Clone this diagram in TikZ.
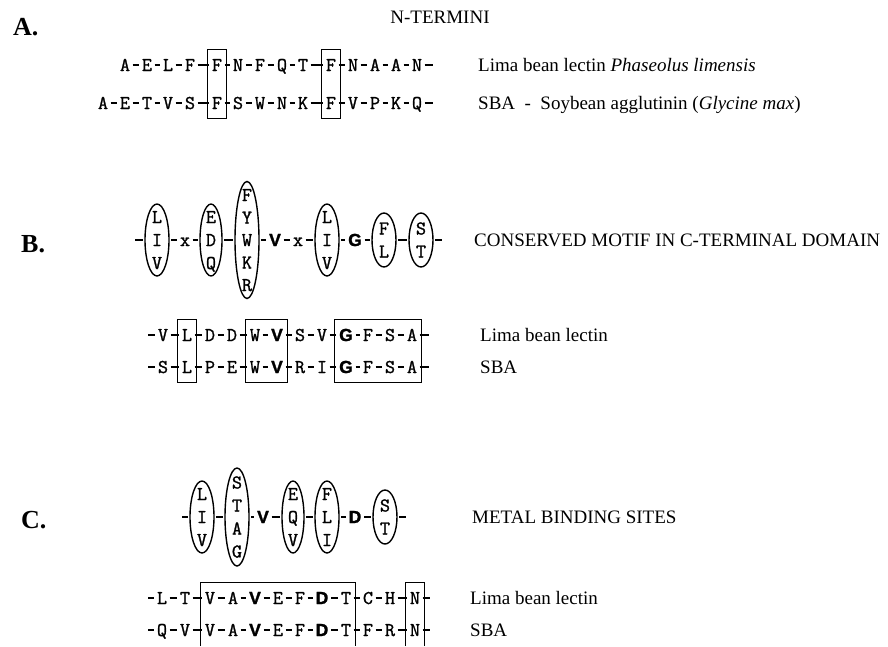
\documentclass[tikz,border=0pt]{standalone}
\usepackage{fontspec}
\setmainfont{Liberation Serif}
\newfontfamily\bresfont[FakeBold=1.5]{Liberation Sans Bold}
\newfontfamily\resfont[FakeBold=1.3]{Latin Modern Mono}
\usetikzlibrary{shapes.geometric,fit}
\newcommand{\B}[1]{{\bresfont\fontsize{17.5}{19}\selectfont #1}}
\begin{document}
\begin{tikzpicture}[x=1pt,y=-1pt,
  res/.style={font=\resfont\fontsize{19.5}{21}\selectfont, inner xsep=1pt, inner ysep=1pt, text height=12pt, text depth=0pt},
  dashln/.style={line width=1.1pt, shorten <=1.5pt, shorten >=1.5pt},
  ell/.style={draw, ellipse, line width=1.4pt, inner sep=0pt, minimum width=24pt},
  lab/.style={font=\fontsize{19}{22}\selectfont, anchor=base west, inner sep=0pt},
  sec/.style={font=\bfseries\fontsize{26}{30}\selectfont, anchor=base west, inner sep=0pt},
  seqbox/.style={draw, line width=1pt, inner xsep=3pt, inner ysep=8.5pt},
  boxln/.style={draw, line width=1pt},
]
\useasboundingbox[fill=white] (0,0) rectangle (888,646);
\coordinate (bot) at (0,646);

% ---------------- A ----------------
\node[sec] (lA) at (13,35) {A.};
\node[lab, anchor=base] (tA) at (440,23) {N-TERMINI};
\foreach \x/\l [count=\i] in {125/A,147/E,168/L,190/F,217/F,238/N,260/F,282/Q,303/T,331/F,353/N,375/A,396/A,417/N}
  \node[res] (a1-\i) at (\x,65) {\l};
\foreach \x/\l [count=\i from 0] in {103/A,125/E,147/T,168/V,190/S,217/F,238/S,260/W,282/N,303/K,331/F,353/V,375/P,396/K,417/Q}
  \node[res] (a2-\i) at (\x,103) {\l};
\coordinate (a1e) at (433,65);
\coordinate (a2e) at (433,103);
\foreach \i in {1,...,13} {\pgfmathtruncatemacro\j{\i+1}\draw[dashln] (a1-\i) -- (a1-\j);}
\foreach \i in {0,...,13} {\pgfmathtruncatemacro\j{\i+1}\draw[dashln] (a2-\i) -- (a2-\j);}
\draw[dashln, shorten >=0pt] (a1-14) -- (a1e);
\draw[dashln, shorten >=0pt] (a2-14) -- (a2e);
\node[seqbox, fit=(a1-5)(a2-5)] (boxA1) {};
\node[seqbox, fit=(a1-10)(a2-10)] (boxA2) {};
\node[lab] (a1lab) at (478,71) {Lima bean lectin \textit{Phaseolus limensis}};
\node[lab] (a2lab) at (478,109) {SBA\ \ -\ \ Soybean agglutinin (\textit{Glycine max})};

% ---------------- B ----------------
\node[sec] (lB) at (21,252) {B.};
\node[lab] (tB) at (474,246) {CONSERVED MOTIF IN C-TERMINAL DOMAIN};
\coordinate (bs) at (135,240);
\coordinate (be) at (442,240);
\node[ell, minimum height=72pt] (b1) at (157,240) {};
\foreach \l [count=\i] in {L,I,V} \node[res] (b1-\i) at (157,240+23*\i-46) {\l};
\node[res] (b2) at (185,240) {x};
\node[ell, minimum width=22pt, minimum height=72pt] (b3) at (211,240) {};
\foreach \l [count=\i] in {E,D,Q} \node[res] (b3-\i) at (211,240+23*\i-46) {\l};
\node[ell, minimum height=117pt] (b4) at (247,240) {};
\foreach \l [count=\i] in {F,Y,W,K,R} \node[res] (b4-\i) at (247,240+22.5*\i-67.5) {\l};
\node[res] (b5) at (275,240) {\B{V}};
\node[res] (b6) at (298,240) {x};
\node[ell, minimum height=72pt] (b7) at (327,240) {};
\foreach \l [count=\i] in {L,I,V} \node[res] (b7-\i) at (327,240+23*\i-46) {\l};
\node[res] (b8) at (355,240) {\B{G}};
\node[ell, minimum height=54pt] (b9) at (384,240) {};
\foreach \l [count=\i] in {F,L} \node[res] (b9-\i) at (384,240+23*\i-34.5) {\l};
\node[ell, minimum height=54pt] (b10) at (421,240) {};
\foreach \l [count=\i] in {S,T} \node[res] (b10-\i) at (421,240+23*\i-34.5) {\l};
\draw[dashln, shorten <=0pt] (bs) -- (b1);
\foreach \i in {1,...,9} {\pgfmathtruncatemacro\j{\i+1}\draw[dashln] (b\i) -- (b\j);}
\draw[dashln, shorten >=0pt] (b10) -- (be);

\foreach \x/\l [count=\i] in {163/V,187/L,210/D,232/D,255/W,277/{\B{V}},300/S,322/V,346/{\B{G}},368/F,390/S,412/A}
  \node[res] (bb1-\i) at (\x,335) {\l};
\foreach \x/\l [count=\i] in {163/S,187/L,210/P,232/E,255/W,277/{\B{V}},300/R,322/I,346/{\B{G}},368/F,390/S,412/A}
  \node[res] (bb2-\i) at (\x,367) {\l};
\coordinate (bb1s) at (148,335); \coordinate (bb1e) at (429,335);
\coordinate (bb2s) at (148,367); \coordinate (bb2e) at (429,367);
\draw[dashln, shorten <=0pt] (bb1s) -- (bb1-1);
\draw[dashln, shorten <=0pt] (bb2s) -- (bb2-1);
\foreach \i in {1,...,11} {\pgfmathtruncatemacro\j{\i+1}\draw[dashln] (bb1-\i) -- (bb1-\j); \draw[dashln] (bb2-\i) -- (bb2-\j);}
\draw[dashln, shorten >=0pt] (bb1-12) -- (bb1e);
\draw[dashln, shorten >=0pt] (bb2-12) -- (bb2e);
\node[seqbox, fit=(bb1-2)(bb2-2)] (boxB1) {};
\node[seqbox, fit=(bb1-5)(bb2-6)] (boxB2) {};
\node[seqbox, fit=(bb1-9)(bb2-12)] (boxB3) {};
\node[lab] (b1lab) at (480,341) {Lima bean lectin};
\node[lab] (b2lab) at (480,373) {SBA};

% ---------------- C ----------------
\node[sec] (lC) at (21,528) {C.};
\node[lab] (tC) at (472,523) {METAL BINDING SITES};
\coordinate (cs) at (182,517);
\coordinate (ce) at (406,517);
\node[ell, minimum height=72pt] (c1) at (202,517) {};
\foreach \l [count=\i] in {L,I,V} \node[res] (c1-\i) at (202,517+23*\i-46) {\l};
\node[ell, minimum height=98pt] (c2) at (237,517) {};
\foreach \l [count=\i] in {S,T,A,G} \node[res] (c2-\i) at (237,517+23*\i-57.5) {\l};
\node[res] (c3) at (263,517) {\B{V}};
\node[ell, minimum width=22pt, minimum height=72pt] (c4) at (293,517) {};
\foreach \l [count=\i] in {E,Q,V} \node[res] (c4-\i) at (293,517+23*\i-46) {\l};
\node[ell, minimum height=72pt] (c5) at (327,517) {};
\foreach \l [count=\i] in {F,L,I} \node[res] (c5-\i) at (327,517+23*\i-46) {\l};
\node[res] (c6) at (355,517) {\B{D}};
\node[ell, minimum height=54pt] (c7) at (385,517) {};
\foreach \l [count=\i] in {S,T} \node[res] (c7-\i) at (385,517+23*\i-34.5) {\l};
\draw[dashln, shorten <=0pt] (cs) -- (c1);
\foreach \i in {1,...,6} {\pgfmathtruncatemacro\j{\i+1}\draw[dashln] (c\i) -- (c\j);}
\draw[dashln, shorten >=0pt] (c7) -- (ce);

\foreach \x/\l [count=\i] in {162/L,185/T,210/V,233/A,255/{\B{V}},278/E,300/F,322/{\B{D}},346/T,368/C,390/H,415/N}
  \node[res] (cc1-\i) at (\x,598) {\l};
\foreach \x/\l [count=\i] in {162/Q,185/V,210/V,233/A,255/{\B{V}},278/E,300/F,322/{\B{D}},346/T,368/F,390/R,415/N}
  \node[res] (cc2-\i) at (\x,630) {\l};
\coordinate (cc1s) at (148,598); \coordinate (cc1e) at (430,598);
\coordinate (cc2s) at (148,630); \coordinate (cc2e) at (430,630);
\draw[dashln, shorten <=0pt] (cc1s) -- (cc1-1);
\draw[dashln, shorten <=0pt] (cc2s) -- (cc2-1);
\foreach \i in {1,...,11} {\pgfmathtruncatemacro\j{\i+1}\draw[dashln] (cc1-\i) -- (cc1-\j); \draw[dashln] (cc2-\i) -- (cc2-\j);}
\draw[dashln, shorten >=0pt] (cc1-12) -- (cc1e);
\draw[dashln, shorten >=0pt] (cc2-12) -- (cc2e);
\coordinate (cTL) at ([xshift=-3pt,yshift=8.5pt]cc1-3.north west);
\coordinate (cTR) at ([xshift=3pt,yshift=8.5pt]cc1-9.north east);
\draw[boxln] (cTL |- bot) -- (cTL) -- (cTR) -- (cTR |- bot);
\coordinate (nTL) at ([xshift=-3pt,yshift=8.5pt]cc1-12.north west);
\coordinate (nTR) at ([xshift=3pt,yshift=8.5pt]cc1-12.north east);
\draw[boxln] (nTL |- bot) -- (nTL) -- (nTR) -- (nTR |- bot);
\node[lab] (c1lab) at (470,604) {Lima bean lectin};
\node[lab] (c2lab) at (470,636) {SBA};
\end{tikzpicture}
\end{document}
